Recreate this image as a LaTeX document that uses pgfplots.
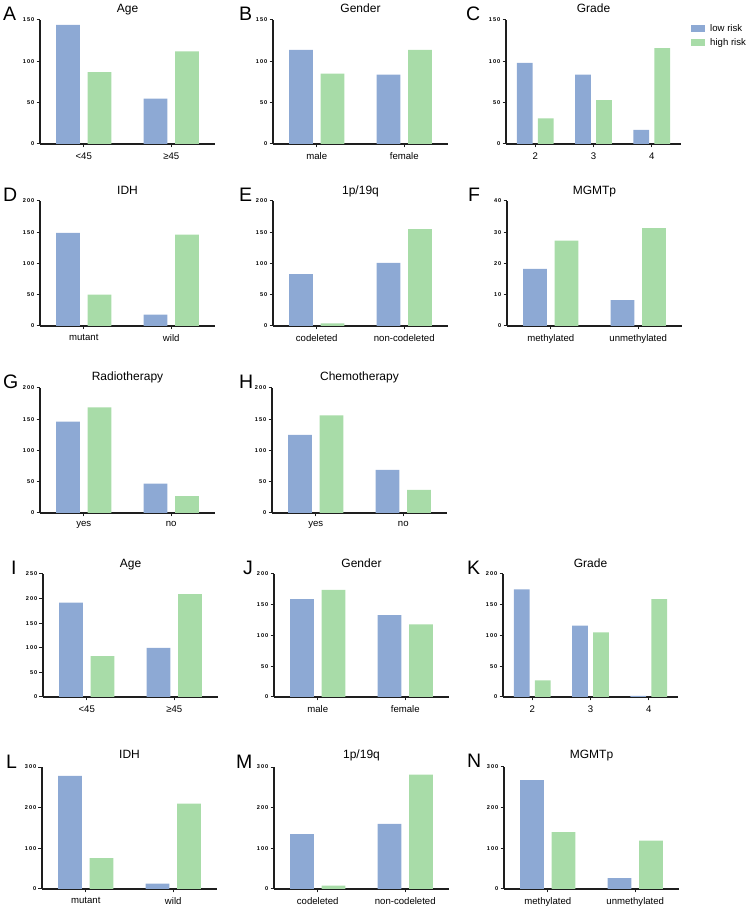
\documentclass[border=0pt]{standalone}
\usepackage{fontspec}
\setmainfont{Liberation Sans}
\newfontfamily\tickfont[LetterSpace=18]{Liberation Sans}
\usepackage{pgfplots}
\pgfplotsset{compat=1.18}
\definecolor{lowc}{RGB}{141,169,212}
\definecolor{highc}{RGB}{168,220,168}
\definecolor{axc}{RGB}{30,30,30}
\pgfplotsset{
  panel/.style={
    scale only axis, width=175pt,
    axis x line*=bottom, axis y line*=left,
    axis line style={line width=1.2pt, color=axc, -},
    tick style={line width=1pt, color=axc},
    tick align=outside, major tick length=3.5pt,
    xmin=-0.5, xmax=1.5, ymin=0, xtick={0,1},
    clip=false,
    /pgf/number format/assume math mode=true,
    yticklabel style={font=\tickfont\bfseries\fontsize{5.6}{6}\selectfont, inner sep=1pt, xshift=-1pt},
    xticklabel style={font=\fontsize{9.6}{11}\selectfont, inner sep=2pt, yshift=-3pt},
    every axis title shift=0pt,
    title style={font=\fontsize{12}{14}\selectfont, at={(0.5,1)}, anchor=base},
  },
  lowbar/.style={ybar, bar width=0.27, bar shift=-0.18, fill=lowc, draw=none},
  highbar/.style={ybar, bar width=0.27, bar shift=0.18, fill=highc, draw=none},
}
\newcommand{\panellabel}[2][-37pt]{\node[anchor=base west, font=\fontsize{19.5}{20}\selectfont, inner sep=0pt, xshift=#1, yshift=-1pt] at (rel axis cs:0,1) {#2};}
\begin{document}
\begin{tikzpicture}
\useasboundingbox (0pt,0pt) rectangle (750pt,911pt);
% Row 1
\begin{axis}[panel, at={(40pt,767pt)}, anchor=south west, height=124pt, ymax=150, ytick={0,50,100,150},
  xticklabels={<45,≥45}, title={Age}, title style={yshift=7pt}]
\addplot[lowbar] coordinates {(0,144) (1,55)};
\addplot[highbar] coordinates {(0,87) (1,112)};
\panellabel[-37pt]{A}
\end{axis}
\begin{axis}[panel, at={(273pt,767pt)}, anchor=south west, height=124pt, ymax=150, ytick={0,50,100,150},
  xticklabels={male,female}, title={Gender}, title style={yshift=7pt}]
\addplot[lowbar] coordinates {(0,114) (1,84)};
\addplot[highbar] coordinates {(0,85) (1,114)};
\panellabel[-34pt]{B}
\end{axis}
\begin{axis}[panel, at={(506pt,767pt)}, anchor=south west, height=124pt, ymax=150, ytick={0,50,100,150},
  xmax=2.5, xtick={0,1,2}, xticklabels={2,3,4}, title={Grade}, title style={yshift=7pt},
  legend style={at={(1,1)}, anchor=north west, xshift=10pt, yshift=-2.5pt, draw=none, fill=none,
    font=\fontsize{9.6}{11}\selectfont, row sep=1pt, inner sep=0pt,
    nodes={inner xsep=5pt}},
  legend cell align=left,
  legend image code/.code={\draw[#1,draw=none] (0pt,-3.5pt) rectangle (14pt,3.5pt);}]
\addplot[lowbar] coordinates {(0,98) (1,84) (2,17)};
\addplot[highbar] coordinates {(0,31) (1,53) (2,116)};
\addlegendentry{low risk}
\addlegendentry{high risk}
\panellabel[-40pt]{C}
\end{axis}
% Row 2
\begin{axis}[panel, at={(40pt,585pt)}, anchor=south west, height=125pt, ymax=200, ytick={0,50,100,150,200},
  xticklabels={mutant,wild}, title={IDH}, title style={yshift=6.5pt}]
\addplot[lowbar] coordinates {(0,149) (1,18)};
\addplot[highbar] coordinates {(0,50) (1,146)};
\panellabel[-37pt]{D}
\end{axis}
\begin{axis}[panel, at={(273pt,585pt)}, anchor=south west, height=125pt, ymax=200, ytick={0,50,100,150,200},
  xticklabels={codeleted,non-codeleted}, title={1p/19q}, title style={yshift=6.5pt}]
\addplot[lowbar] coordinates {(0,83) (1,101)};
\addplot[highbar] coordinates {(0,4) (1,155)};
\panellabel[-34pt]{E}
\end{axis}
\begin{axis}[panel, at={(507pt,585pt)}, anchor=south west, height=125pt, ymax=40, ytick={0,10,20,30,40},
  xticklabels={methylated,unmethylated}, title={MGMTp}, title style={yshift=6.5pt}]
\addplot[lowbar] coordinates {(0,18.3) (1,8.3)};
\addplot[highbar] coordinates {(0,27.3) (1,31.3)};
\panellabel[-39pt]{F}
\end{axis}
% Row 3
\begin{axis}[panel, at={(40pt,398pt)}, anchor=south west, height=125pt, ymax=200, ytick={0,50,100,150,200},
  xticklabels={yes,no}, title={Radiotherapy}, title style={yshift=7.5pt}]
\addplot[lowbar] coordinates {(0,146) (1,47)};
\addplot[highbar] coordinates {(0,169) (1,27)};
\panellabel[-37pt]{G}
\end{axis}
\begin{axis}[panel, at={(272pt,398pt)}, anchor=south west, height=125pt, ymax=200, ytick={0,50,100,150,200},
  xticklabels={yes,no}, title={Chemotherapy}, title style={yshift=7.5pt}]
\addplot[lowbar] coordinates {(0,125) (1,69)};
\addplot[highbar] coordinates {(0,156) (1,37)};
\panellabel[-33pt]{H}
\end{axis}
% Row 4
\begin{axis}[panel, at={(43pt,214pt)}, anchor=south west, height=123pt, ymax=250, ytick={0,50,100,150,200,250},
  xticklabels={<45,≥45}, title={Age}, title style={yshift=6pt}]
\addplot[lowbar] coordinates {(0,192) (1,100)};
\addplot[highbar] coordinates {(0,83) (1,209)};
\panellabel[-32pt]{I}
\end{axis}
\begin{axis}[panel, at={(274pt,214pt)}, anchor=south west, height=123pt, ymax=200, ytick={0,50,100,150,200},
  xticklabels={male,female}, title={Gender}, title style={yshift=6pt}]
\addplot[lowbar] coordinates {(0,159) (1,133)};
\addplot[highbar] coordinates {(0,174) (1,118)};
\panellabel[-31pt]{J}
\end{axis}
\begin{axis}[panel, at={(503pt,214pt)}, anchor=south west, height=123pt, ymax=200, ytick={0,50,100,150,200},
  xmax=2.5, xtick={0,1,2}, xticklabels={2,3,4}, title={Grade}, title style={yshift=6pt}]
\addplot[lowbar] coordinates {(0,175) (1,116) (2,2)};
\addplot[highbar] coordinates {(0,27) (1,105) (2,159)};
\panellabel[-36pt]{K}
\end{axis}
% Row 5
\begin{axis}[panel, at={(42pt,22pt)}, anchor=south west, height=122pt, ymax=300, ytick={0,100,200,300},
  xticklabels={mutant,wild}, title={IDH}, title style={yshift=8pt}]
\addplot[lowbar] coordinates {(0,278) (1,13)};
\addplot[highbar] coordinates {(0,76) (1,210)};
\panellabel[-36pt]{L}
\end{axis}
\begin{axis}[panel, at={(274pt,22pt)}, anchor=south west, height=122pt, ymax=300, ytick={0,100,200,300},
  xticklabels={codeleted,non-codeleted}, title={1p/19q}, title style={yshift=8pt}]
\addplot[lowbar] coordinates {(0,135) (1,160)};
\addplot[highbar] coordinates {(0,8) (1,281)};
\panellabel[-38pt]{M}
\end{axis}
\begin{axis}[panel, at={(504pt,22pt)}, anchor=south west, height=122pt, ymax=300, ytick={0,100,200,300},
  xticklabels={methylated,unmethylated}, title={MGMTp}, title style={yshift=8pt}]
\addplot[lowbar] coordinates {(0,268) (1,27)};
\addplot[highbar] coordinates {(0,140) (1,119)};
\panellabel[-37pt]{N}
\end{axis}
\end{tikzpicture}
\end{document}
